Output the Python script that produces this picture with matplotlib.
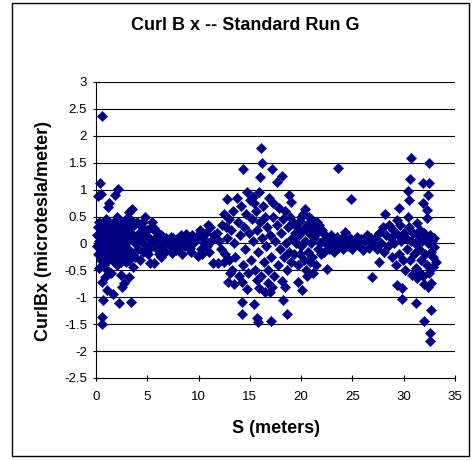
import matplotlib
matplotlib.use("Agg")
import matplotlib.pyplot as plt
from matplotlib.patches import Rectangle
import numpy as np

plt.rcParams['font.family'] = ['Liberation Sans', 'DejaVu Sans']

# Segment 1: 0 - 3.6 m
s1 = [0.6,0.4,0.5,0.2,2.1,1.85,1.3,1.2,3.5,3.2,2.0,1.0,0.6,0.6,0.7,2.2,3.4,1.1,1.7,2.5,2.7,0.6,2.4,3.2,1.1,3.6,0.3,0.9,1.5,2.0,2.9,0.8,
      0.1,0.1,0.2,0.2,0.3,0.3,0.4,0.4,0.5,0.5,0.6,0.6,0.7,0.7,0.8,0.8,0.9,0.9,1.0,1.0,1.1,1.1,1.2,1.2,1.3,1.3,1.4,1.4,1.5,1.5,1.6,1.6,1.7,1.7,
      1.8,1.8,1.9,1.9,2.0,2.0,2.1,2.1,2.2,2.2,2.3,2.3,2.4,2.4,2.5,2.5,2.6,2.6,2.7,2.7,2.8,2.8,2.9,2.9,3.0,3.0,3.1,3.1,3.2,3.2,3.3,3.3,3.4,3.4]
c1 = [2.36,1.12,0.92,0.88,1.01,0.9,0.75,0.68,0.64,0.59,0.5,0.45,-1.37,-1.5,-1.05,-1.1,-1.09,-0.87,-0.94,-0.8,-0.74,-0.72,-0.59,-0.62,-0.5,-0.43,-0.45,-0.62,-0.55,-0.4,-0.35,-0.3,
      0.15,-0.05,0.3,-0.2,0.05,0.4,-0.1,0.2,-0.3,0.1,0.35,-0.15,0.0,0.25,0.1,-0.4,0.3,-0.2,0.05,-0.35,0.2,-0.1,0.4,-0.25,0.0,0.3,-0.15,0.15,0.35,-0.05,0.1,-0.3,0.25,-0.1,
      0.0,0.4,-0.2,0.15,0.3,-0.1,0.05,-0.3,0.2,-0.05,0.35,-0.2,0.1,-0.35,0.25,0.0,-0.15,0.4,0.15,-0.3,0.3,-0.05,0.1,0.45,-0.2,0.2,0.05,-0.1,0.3,-0.3,0.1,0.45,-0.15,0.2]

# Segment 2: 3.6 - 7 m
s2 = [3.7,3.8,3.9,4.0,4.1,4.2,4.3,4.4,4.5,4.6,4.7,4.8,4.9,5.0,5.1,5.2,5.3,5.4,5.5,5.6,5.7,5.7,5.8,5.9,6.0,6.1,6.2,6.3,6.4,6.5,6.6,6.7,6.8,6.9,
      3.8,4.3,4.9,5.2,6.0,5.5,4.6,6.3]
c2 = [0.35,-0.25,0.1,0.4,-0.1,0.2,-0.3,0.05,0.3,-0.15,0.15,0.5,-0.05,0.25,-0.2,0.1,-0.37,0.3,0.0,0.27,-0.37,0.29,0.1,-0.1,0.2,-0.2,0.05,0.15,-0.1,0.12,0.0,-0.15,0.1,0.05,
      0.0,0.1,0.15,-0.1,-0.05,0.4,0.4,-0.25]

# Segment 3: 7 - 11.5 m
s3 = [7.0,7.2,7.4,7.5,7.7,7.9,8.0,8.2,8.4,8.5,8.7,8.9,9.0,9.2,9.4,9.5,9.7,9.9,10.0,10.1,10.2,10.4,10.5,10.7,10.9,11.0,11.1,11.2,11.4,11.5,
      7.3,7.8,8.3,8.8,9.3,9.8,10.3,10.8]
c3 = [0.05,-0.05,-0.18,0.1,0.0,0.08,-0.1,0.05,-0.2,0.12,-0.05,0.02,0.1,-0.08,0.15,0.0,0.05,-0.24,0.18,0.25,-0.1,0.1,0.0,0.2,0.34,-0.15,0.31,0.05,-0.37,0.15,
      0.12,-0.12,0.15,0.18,-0.15,0.12,-0.2,-0.05]

# Segment 4: 11.5 - 19.5 m
s4 = [16.1,16.2,14.3,16.0,17.2,18.1,17.6,12.8,14.7,15.3,18.8,19.0,17.3,14.2,14.2,15.4,15.7,15.8,17.1,18.2,18.6,18.4,12.9,13.1,14.2,15.7,15.9,16.8,17.0,11.9,12.5,
      11.8,12.0,12.2,12.3,12.5,12.6,12.8,13.0,13.0,13.2,13.3,13.4,13.5,13.6,13.8,13.9,14.0,14.1,14.3,14.4,14.5,14.6,14.8,14.9,15.0,15.1,15.2,15.3,15.5,15.6,
      15.7,15.8,15.9,16.0,16.1,16.2,16.3,16.4,16.5,16.6,16.7,16.8,16.9,17.0,17.1,17.3,17.4,17.5,17.6,17.7,17.8,17.9,18.0,18.1,18.2,18.3,18.4,18.5,18.6,18.7,
      18.8,18.9,19.0,19.1,19.2,19.3,19.4,13.7,14.7,15.4,16.5,17.2,12.7,13.5]
c4 = [1.77,1.5,1.38,1.24,1.38,1.25,1.15,0.83,0.96,0.86,0.9,0.77,0.75,-1.09,-1.31,-1.13,-1.39,-1.46,-1.45,-1.05,-1.31,-0.8,-0.72,-0.55,-0.72,-0.68,-0.83,-0.74,-0.9,-0.37,-0.35,
      0.2,0.05,-0.1,0.35,0.55,-0.2,0.1,0.45,-0.3,0.25,-0.5,0.6,0.0,-0.25,0.4,-0.6,0.15,0.7,-0.4,0.3,-0.1,0.55,-0.55,0.2,0.8,-0.3,0.45,0.05,-0.5,0.6,
      0.25,-0.15,0.95,0.4,-0.6,0.1,0.7,-0.35,0.5,-0.05,0.3,-0.5,0.85,0.15,-0.25,0.5,-0.6,0.05,0.35,-0.4,0.65,-0.1,0.2,-0.7,0.45,-0.25,0.6,0.0,-0.5,0.3,
      -0.15,0.5,-0.35,0.1,0.4,-0.2,0.2,0.85,-0.85,0.75,-0.9,-0.8,0.3,-0.75]

# Segment 5: 19.5 - 22.5 m
s5 = [19.5,19.6,19.7,19.8,19.9,20.0,20.0,20.1,20.2,20.3,20.4,20.4,20.5,20.6,20.7,20.8,20.9,21.0,21.0,21.1,21.2,21.3,21.4,21.5,21.6,21.7,21.8,21.9,22.0,
      22.1,22.2,22.3,22.4,22.5,19.7,20.2,20.6,21.2,20.8,19.9,21.5]
c5 = [0.0,0.3,-0.4,0.15,-0.2,0.5,-0.05,-0.87,0.25,-0.3,0.64,0.05,-0.5,0.35,-0.15,0.2,-0.35,0.45,0.0,-0.25,0.3,0.1,-0.4,0.2,-0.1,0.35,0.0,-0.2,0.25,
      0.05,-0.15,0.15,0.0,-0.48,-0.72,0.55,-0.6,-0.55,0.5,0.42,0.4]

# Segment 6: 22.5 - 27 m
s6 = [22.6,22.7,22.8,22.9,23.0,23.1,23.2,23.3,23.5,23.6,23.6,23.8,24.0,24.1,24.3,24.4,24.6,24.8,24.9,25.0,25.2,25.4,25.6,25.8,26.0,26.2,26.4,26.6,26.8,26.9,27.0]
c6 = [0.1,-0.1,0.05,0.15,-0.05,0.1,-0.15,0.05,0.12,1.40,-0.08,0.0,0.1,-0.1,0.21,0.05,-0.05,0.1,0.82,-0.1,0.05,0.12,-0.05,0.08,-0.12,0.05,0.15,-0.08,0.1,-0.62,0.0]

# Segment 7: 27 - 33.2 m
s7 = [30.7,32.5,30.6,31.9,32.5,30.4,32.4,30.5,31.9,29.5,32.3,28.2,30.4,32.3,29.3,31.3,27.6,29.3,29.8,29.8,31.2,32.7,32.0,32.6,32.6,30.8,31.6,32.7,32.9,33.0,
      27.2,27.4,27.6,27.8,28.0,28.1,28.3,28.5,28.6,28.8,28.9,29.0,29.1,29.2,29.4,29.5,29.6,29.7,29.9,30.0,30.1,30.2,30.3,30.5,30.6,30.7,30.9,31.0,31.1,31.2,
      31.4,31.5,31.6,31.7,31.8,31.9,32.0,32.1,32.2,32.3,32.4,32.5,32.6,32.7,32.8,32.9,33.0,33.1,31.3,32.0,32.4]
c7 = [1.59,1.5,1.2,1.12,1.12,0.98,0.9,0.81,0.76,0.66,0.62,0.55,0.5,0.47,0.44,0.38,-0.34,-0.77,-0.83,-1.03,-1.1,-1.23,-1.45,-1.66,-1.82,-0.58,-0.55,-0.73,-0.43,-0.06,
      0.1,-0.1,0.2,0.0,0.3,-0.15,0.15,-0.05,0.35,0.1,-0.25,0.25,0.0,-0.4,0.15,-0.2,0.35,0.05,-0.3,0.2,-0.5,0.1,-0.1,0.3,-0.3,0.05,0.2,-0.2,0.0,-0.45,
      0.15,-0.1,0.25,-0.3,0.05,-0.6,0.2,-0.2,0.1,-0.4,0.0,-0.55,0.15,-0.15,0.05,-0.25,0.1,-0.35,-0.65,-0.75,-0.8]

s_vals = s1 + s2 + s3 + s4 + s5 + s6 + s7
curl_vals = c1 + c2 + c3 + c4 + c5 + c6 + c7

x_ticks = [0, 5, 10, 15, 20, 25, 30, 35]
y_ticks = [-2.5, -2, -1.5, -1, -0.5, 0, 0.5, 1, 1.5, 2, 2.5, 3]

fig = plt.figure(figsize=(4.76, 4.61), dpi=100)
W, H = 476, 461
ax = fig.add_axes([96 / W, 1 - 378 / H, (455 - 96) / W, (378 - 82) / H])

for yv in y_ticks[1:]:
    ax.axhline(yv, color='black', lw=0.8, zorder=1)

ax.scatter(s_vals, curl_vals, marker='D', s=28, color='#000080', edgecolors='#000080',
           linewidths=0.3, zorder=3, clip_on=False)

ax.set_xlim(0, 35)
ax.set_ylim(-2.5, 3)
ax.set_xticks(x_ticks)
ax.set_xticklabels([str(v) for v in x_ticks])
ax.set_yticks(y_ticks)
ax.set_yticklabels([('%g' % v) for v in y_ticks])
ax.tick_params(axis='both', direction='inout', length=5, width=0.8, labelsize=9.5, colors='black')
ax.tick_params(axis='x', pad=7)
ax.tick_params(axis='y', pad=4)
for side in ['top', 'right']:
    ax.spines[side].set_visible(False)
for side in ['left', 'bottom']:
    ax.spines[side].set_linewidth(0.8)
    ax.spines[side].set_color('black')

fig.text(245 / W, 1 - 25 / H, 'Curl B x -- Standard Run G', ha='center', va='center',
         fontsize=13, fontweight='bold')
fig.text(276 / W, 1 - 428 / H, 'S (meters)', ha='center', va='center',
         fontsize=13, fontweight='bold')
fig.text(44 / W, 1 - 231 / H, 'CurlBx (microtesla/meter)', ha='center', va='center',
         rotation=90, fontsize=13, fontweight='bold')

fig.patches.append(Rectangle((12 / W, 1 - 456 / H), (469 - 12) / W, (456 - 3) / H,
                             transform=fig.transFigure, fill=False, edgecolor='black', lw=1.0))

fig.savefig('out.png', dpi=100)
